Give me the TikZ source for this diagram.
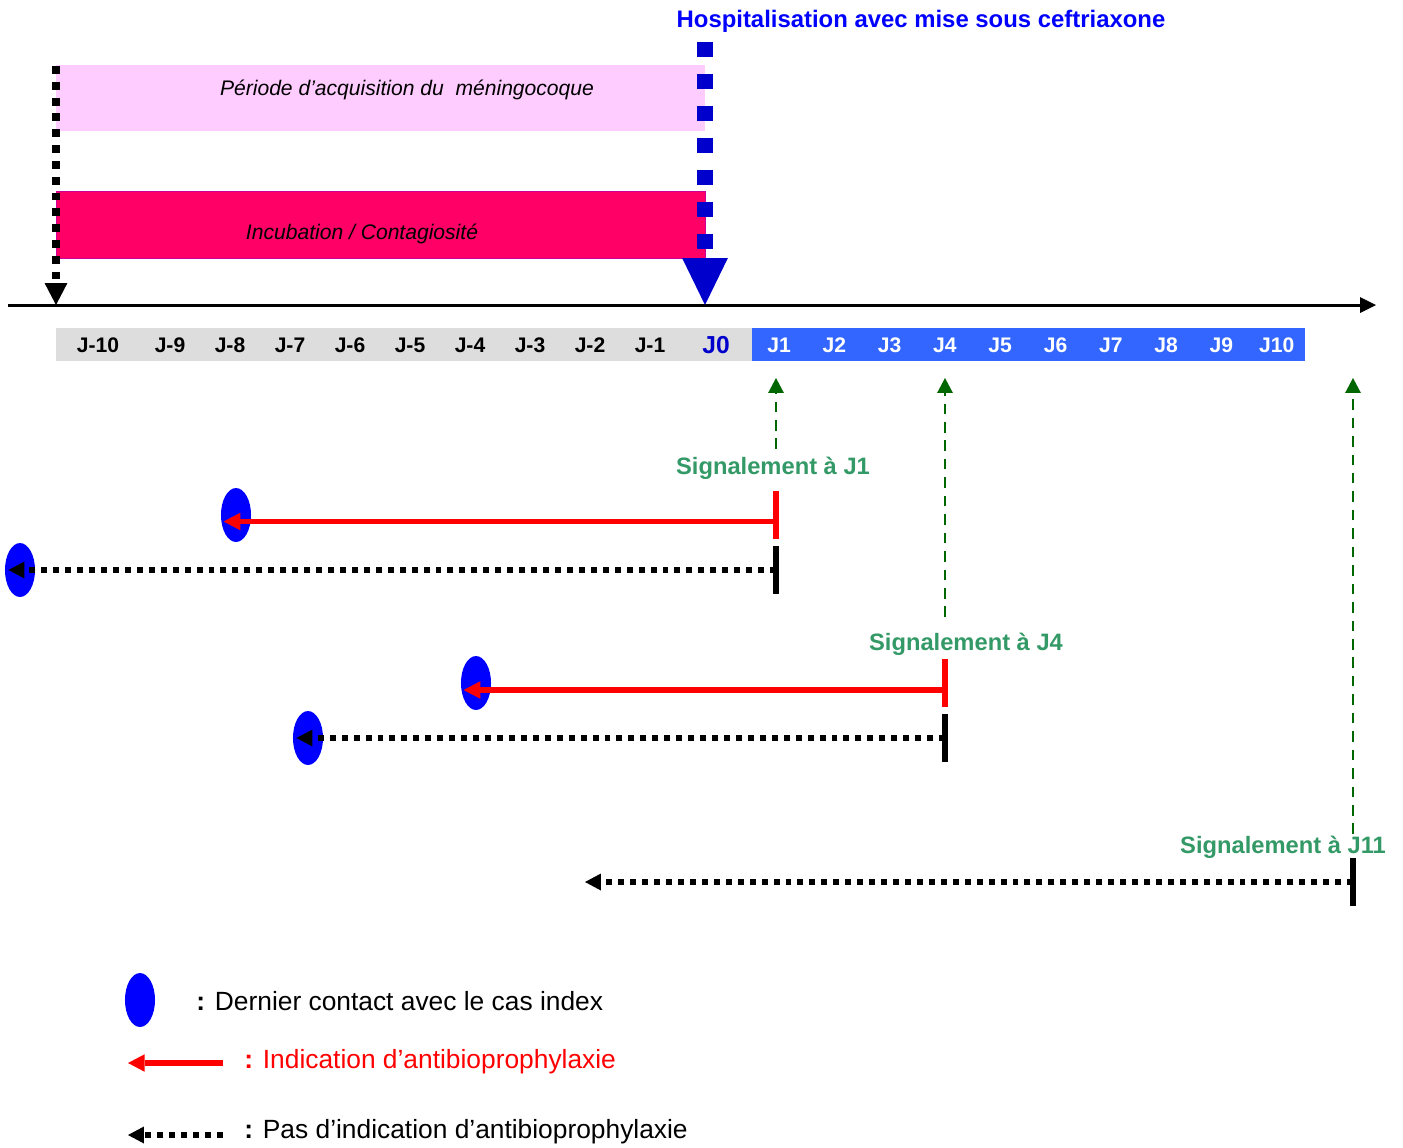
\documentclass[tikz,border=0pt]{standalone}
\usepackage{fontspec}
\setmainfont{Liberation Sans}
\usetikzlibrary{arrows.meta,shapes.geometric}
\definecolor{rose}{RGB}{255,204,255}
\definecolor{framboise}{RGB}{255,0,102}
\definecolor{grisjour}{RGB}{221,221,221}
\definecolor{bleujour}{RGB}{51,102,255}
\definecolor{bleuhosp}{RGB}{0,0,204}
\definecolor{vertsignal}{RGB}{51,153,102}
\definecolor{vertfleche}{RGB}{0,102,0}

\begin{document}
\begin{tikzpicture}[x=0.02cm, y=-0.02cm,
	contact/.style={ellipse, fill=blue, minimum width=17.1pt, minimum height=30.7pt, inner sep=0},
	jour/.style={font=\bfseries\fontsize{12}{14}\selectfont, anchor=base, inner sep=0},
	signal/.style={font=\bfseries\fontsize{13.5}{16}\selectfont, text=vertsignal, anchor=base, inner sep=0},
	legende/.style={font=\fontsize{15}{18}\selectfont, anchor=base west, inner sep=0},
	indic/.style={red, line width=3.4pt, -{Triangle[width=10pt,length=9.5pt,line width=0pt]}},
	pasindic/.style={line width=3.4pt, dash pattern=on 3.4pt off 3.4pt, -{Triangle[width=9.7pt,length=9.1pt,line width=0pt]}},
	report/.style={vertfleche, line width=1.3pt, dash pattern=on 6pt off 4.5pt, -{Triangle[width=9pt,length=8.5pt,line width=0pt]}},
	butee/.style={line width=2.9pt}]
	\useasboundingbox (0,0) rectangle (1403,1147);

	% periodes
	\fill [rose] (56,65) rectangle (705,131);
	\filldraw [fill=framboise, draw={rgb,255:red,204;green,0;blue,153}, line width=0.4pt] (56,191) rectangle (705,258);
	\node [font=\itshape\fontsize{12}{14}\selectfont, anchor=base, inner sep=0] (acq) at (407,95) {Période d’acquisition du \ méningocoque};
	\node [font=\itshape\fontsize{12}{14}\selectfont, anchor=base, inner sep=0] (incub) at (362,239) {Incubation / Contagiosité};

	% axe du temps
	\coordinate (t0) at (8,305);
	\coordinate (tfin) at (1376,305);
	\draw [line width=1.7pt, -{Triangle[width=9pt,length=9pt,line width=0pt]}] (t0) -- (tfin);
	\coordinate (debut) at (56,66);
	\coordinate (jmoins10) at (56,305);
	\draw [line width=4.2pt, dash pattern=on 4.5pt off 4.5pt, -{Triangle[width=13pt,length=12.5pt,line width=0pt]}] (debut) -- (jmoins10);
	\coordinate (hosptop) at (705,42);
	\coordinate (j0) at (705,305);
	\draw [bleuhosp, line width=9pt, dash pattern=on 8.5pt off 9.7pt, -{Triangle[width=26pt,length=26.7pt,line width=0pt]}] (hosptop) -- (j0);
	\node [font=\bfseries\fontsize{13.6}{16}\selectfont, text=blue, anchor=base, inner sep=0] (hosp) at (921,27) {Hospitalisation avec mise sous ceftriaxone};

	% jours
	\fill [grisjour] (56,328) rectangle (752,361);
	\fill [bleujour] (752,328) rectangle (1305,361);
	\foreach \lab/\xx in {J-10/98, J-9/170, J-8/230, J-7/290, J-6/350, J-5/410, J-4/470, J-3/530, J-2/590, J-1/650}
		\node [jour] at (\xx,352) {\lab};
	\node [jour, font=\bfseries\fontsize{14}{16}\selectfont, text=bleuhosp] (jzero) at (716,353) {J0};
	\foreach \i in {1,...,10}
		\node [jour, text=white] (j\i) at ({779+55.3*(\i-1)},352) {J\i};

	% signalements
	\node [signal] (sig1) at (773,474) {Signalement à J1};
	\node [signal] (sig4) at (966,650) {Signalement à J4};
	\node [signal] (sig11) at (1283,853) {Signalement à J11};
	\coordinate (h1) at (776,378);
	\coordinate (h4) at (945,378);
	\coordinate (h11) at (1353,378);
	\coordinate (b1) at (776,449);
	\coordinate (b4) at (945,617);
	\coordinate (b11) at (1353,834);
	\draw [report] (b1) -- (h1);
	\draw [report] (b4) -- (h4);
	\draw [report] (b11) -- (h11);

	% contacts
	\node [contact] (c1) at (236,515) {};
	\node [contact] (c2) at (20,570) {};
	\node [contact] (c3) at (476,683) {};
	\node [contact] (c4) at (308,738) {};
	\coordinate (r1) at (776,521.5);
	\coordinate (n1) at (776,570);
	\coordinate (r4) at (945,690);
	\coordinate (n4) at (945,738);
	\coordinate (n11) at (1353,882);
	\coordinate (fin11) at (585,882);
	\draw [butee, red] (776,491) -- (776,539);
	\draw [butee] (776,546) -- (776,594);
	\draw [butee, red] (945,659) -- (945,707);
	\draw [butee] (945,714) -- (945,762);
	\draw [butee] (1353,858) -- (1353,906);
	\draw [indic, shorten >=1.7pt] (r1) -- (c1.west |- r1);
	\draw [pasindic, shorten >=2.2pt] (n1) -- (c2.west |- n1);
	\draw [indic, shorten >=1.7pt] (r4) -- (c3.west |- r4);
	\draw [pasindic, shorten >=2.2pt] (n4) -- (c4.west |- n4);
	\draw [pasindic] (n11) -- (fin11);

	% legende
	\node [contact] (leg1) at (140,1000) {};
	\coordinate (la) at (223,1063);
	\coordinate (lb) at (128,1063);
	\coordinate (lc) at (223,1135);
	\coordinate (ld) at (128,1135);
	\draw [indic] (la) -- (lb);
	\draw [pasindic] (lc) -- (ld);
	\node [legende] (txt1) at (196,1010) {{\bfseries :} Dernier contact avec le cas index};
	\node [legende, text=red] (txt2) at (244,1068) {{\bfseries :} Indication d’antibioprophylaxie};
	\node [legende] (txt3) at (244,1138) {{\bfseries :} Pas d’indication d’antibioprophylaxie};
\end{tikzpicture}
\end{document}
